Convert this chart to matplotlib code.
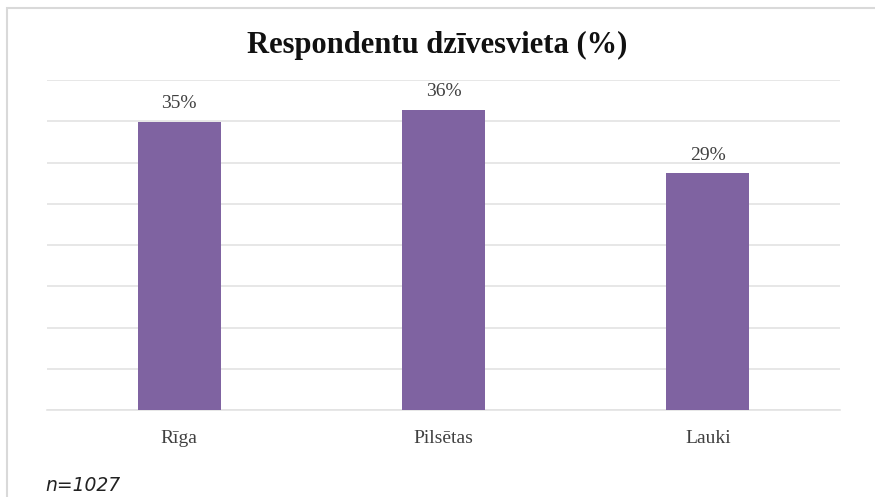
import matplotlib
matplotlib.use("Agg")
import matplotlib.pyplot as plt
from matplotlib.patches import Rectangle

categories = ["Rīga", "Pilsētas", "Lauki"]
values = [34.9, 36.4, 28.7]
labels = ["35%", "36%", "29%"]
title = "Respondentu dzīvesvieta (%)"
note = "n=1027"

fig = plt.figure(figsize=(8.75, 4.97), dpi=100)
ax = fig.add_axes([47/875, 1-410/497, (840-47)/875, (410-80)/497])

x = range(len(categories))
ax.bar(x, values, width=0.315, color="#7F63A1", zorder=3)
ax.set_xlim(-0.5, 2.5)
ax.set_ylim(0, 40)
ax.set_yticks(range(0, 41, 5))
ax.yaxis.grid(True, color="#E3E3E3", linewidth=1.2, zorder=0)
ax.tick_params(axis="y", left=False, labelleft=False)
ax.tick_params(axis="x", bottom=False, pad=11)
ax.set_xticks(list(x))
ax.set_xticklabels(categories, fontsize=14, family="Liberation Serif", color="#404040")
for s in ["top", "right", "left"]:
    ax.spines[s].set_visible(False)
ax.spines["bottom"].set_color("#E3E3E3")
ax.spines["bottom"].set_linewidth(1.2)

for xi, v, l in zip(x, values, labels):
    ax.annotate(l, (xi, v), xytext=(0, 7), textcoords="offset points",
                ha="center", va="bottom", fontsize=14, family="Liberation Serif", color="#404040")

fig.text(0.5, 1-52.5/497, title, ha="center", va="baseline", fontsize=22,
         fontweight="bold", family="Liberation Serif", color="#111111")
fig.text(45/875, 1-491/497, note, ha="left", va="baseline", fontsize=13.5,
         style="italic", family="DejaVu Sans", color="#222222")

fig.add_artist(Rectangle((7/875, -0.1), 1.2, 1 - 8/497 + 0.1, transform=fig.transFigure,
                         fill=False, edgecolor="#D9D9D9", linewidth=1.5))

fig.savefig("out.png", dpi=100)
